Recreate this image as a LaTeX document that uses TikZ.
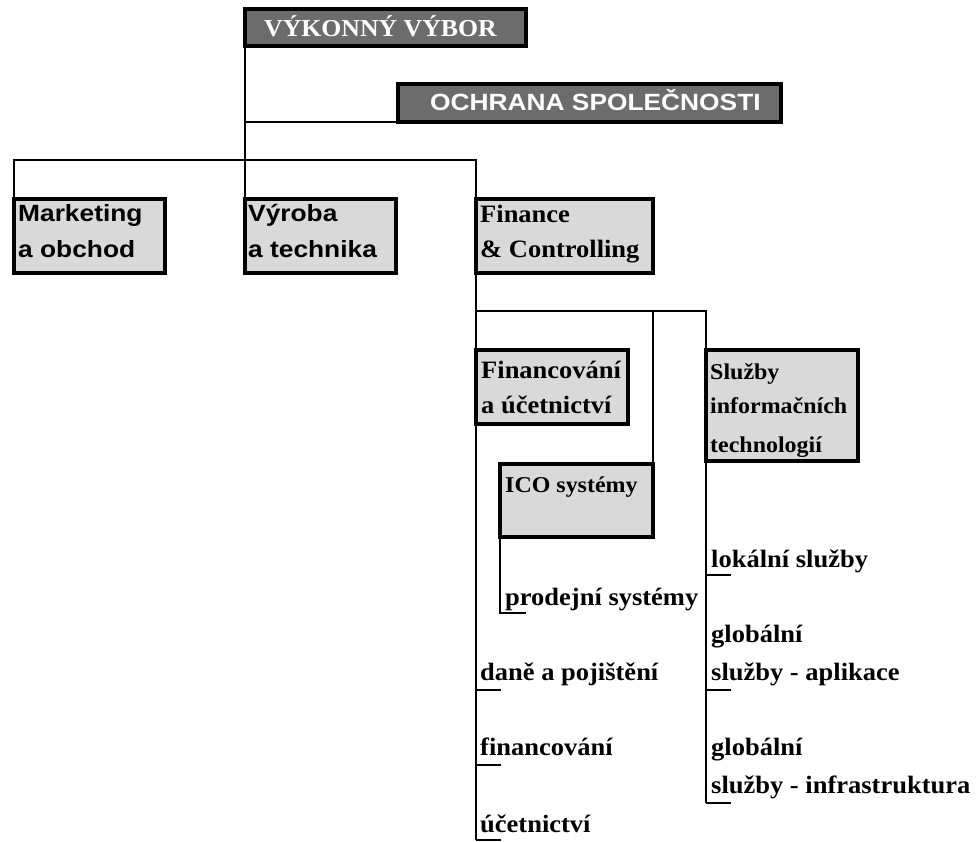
\documentclass[tikz,border=0pt]{standalone}
\usepackage{fontspec}
\setmainfont{Liberation Serif}[FakeStretch=1.06]
\setsansfont{Liberation Sans}[FakeStretch=1.12]
\definecolor{boxdark}{HTML}{6C6C6C}
\definecolor{boxlight}{HTML}{D9D9D9}
\pgfdeclarelayer{lines}
\pgfsetlayers{lines,main}
\tikzset{
  headbox/.style={draw=black, line width=4.5pt, fill=boxdark, rectangle,
    inner sep=0pt, outer sep=0pt, anchor=north west},
  unitbox/.style={draw=black, line width=4.5pt, fill=boxlight, rectangle,
    inner sep=0pt, outer sep=0pt, anchor=north west},
  txt/.style={anchor=base west, inner sep=0pt},
  headserif/.style={txt, text=white, font=\rmfamily\bfseries\fontsize{24.3}{28}\selectfont},
  headsans/.style={txt, text=white, font=\sffamily\bfseries\fontsize{23.5}{28}\selectfont},
  unitsans/.style={txt, font=\sffamily\bfseries\fontsize{23.5}{28}\selectfont},
  serifbig/.style={txt, font=\rmfamily\bfseries\fontsize{25}{28}\selectfont},
  serifmid/.style={txt, font=\rmfamily\bfseries\fontsize{22.6}{26}\selectfont},
  link/.style={draw=black, line width=2.4pt},
}
\begin{document}
\begin{tikzpicture}[x=1pt, y=-1pt]
\useasboundingbox (0,0) rectangle (980,841);

% --- boxes ---
\node[headbox, minimum width=281, minimum height=37] (vv) at (245,9) {};
\node[headbox, minimum width=383, minimum height=38] (och) at (398,84) {};
\node[unitbox, minimum width=151, minimum height=74] (mkt) at (14,199) {};
\node[unitbox, minimum width=151, minimum height=74] (vyr) at (245,199) {};
\node[unitbox, minimum width=177, minimum height=74] (fin) at (476,199) {};
\node[unitbox, minimum width=152, minimum height=74] (fa) at (476,350) {};
\node[unitbox, minimum width=152, minimum height=111] (sl) at (706,350) {};
\node[unitbox, minimum width=153, minimum height=73] (ico) at (500,464) {};

% --- box texts ---
\node[headserif] (vvt) at (264,36) {VÝKONNÝ VÝBOR};
\node[headsans] (ocht) at (430,110) {OCHRANA SPOLEČNOSTI};
\node[unitsans] (mkt1) at (18,221) {Marketing};
\node[unitsans] (mkt2) at (18,257) {a obchod};
\node[unitsans] (vyr1) at (248,221) {Výroba};
\node[unitsans] (vyr2) at (248,257) {a technika};
\node[serifbig] (fin1) at (480,222) {Finance};
\node[serifbig] (fin2) at (480,257) {\& Controlling};
\node[serifbig] (fa1) at (481,378) {Financování};
\node[serifbig] (fa2) at (481,413) {a účetnictví};
\node[serifmid] (sl1) at (710,379) {Služby};
\node[serifmid] (sl2) at (710,413) {informačních};
\node[serifmid] (sl3) at (710,452) {technologií};
\node[serifmid] (icot) at (505,492) {ICO systémy};

% --- leaf items ---
\node[serifbig] (prod) at (505,605) {prodejní systémy};
\node[serifbig] (dane) at (480,680) {daně a pojištění};
\node[serifbig] (finc) at (480,755) {financování};
\node[serifbig] (ucet) at (480,832) {účetnictví};
\node[serifbig] (lok) at (711,567) {lokální služby};
\node[serifbig] (apl1) at (711,642) {globální};
\node[serifbig] (apl2) at (711,680) {služby - aplikace};
\node[serifbig] (inf1) at (711,755) {globální};
\node[serifbig] (inf2) at (711,793) {služby - infrastruktura};

% --- joints of the tree ---
\coordinate (bus) at (0,160);
\coordinate (subBus) at (0,311);
\coordinate (finEnd) at (476,840);
\coordinate (itEnd) at (706,803);
\coordinate (icoEnd) at (500,613);
\coordinate (prodTick) at (526,613);
\coordinate (daneA) at (476,690); \coordinate (daneB) at (501,690);
\coordinate (fincA) at (476,765); \coordinate (fincB) at (501,765);
\coordinate (ucetB) at (501,840);
\coordinate (lokA) at (706,575);  \coordinate (lokB) at (731,575);
\coordinate (aplA) at (706,690);  \coordinate (aplB) at (731,690);
\coordinate (infB) at (731,803);

% --- tree lines, under the boxes ---
\begin{pgfonlayer}{lines}
\path[link] (vv.south west) -- (vyr.north west);
\path[link] (vv.south west |- och.south west) -- (och.south west);
\path[link] (mkt.north west) -- (mkt.north west |- bus)
  -- (fin.north west |- bus) -- (fin.north west);
\path[link] (fin.south west) -- (finEnd);
\path[link] (fin.south west |- subBus) -- (sl.north west |- subBus)
  -- (sl.north west);
\path[link] (ico.north east |- subBus) -- (ico.north east);
\path[link] (sl.south west) -- (itEnd);
\path[link] (ico.south west) -- (icoEnd) -- (prodTick);
\path[link] (daneA) -- (daneB);
\path[link] (fincA) -- (fincB);
\path[link] (finEnd) -- (ucetB);
\path[link] (lokA) -- (lokB);
\path[link] (aplA) -- (aplB);
\path[link] (itEnd) -- (infB);
\end{pgfonlayer}
\end{tikzpicture}
\end{document}
